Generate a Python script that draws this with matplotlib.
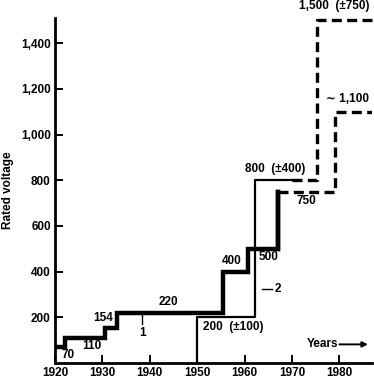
import matplotlib.pyplot as plt

plt.rcParams['font.family'] = ['Liberation Sans', 'DejaVu Sans']
plt.rcParams['font.weight'] = 'bold'

# curve 1: actual rated voltages (thick, solid), then forecast (dashed)
years1 = [1920, 1922.2, 1930.5, 1933, 1955.4, 1960.8, 1967]
volts1 = [70, 110, 154, 220, 400, 500, 750]
years1_fc = [1967, 1979.1, 1979.1, 1987]
volts1_fc = [750, 750, 1100, 1100]

# curve 2: thin solid, then dashed forecast
years2 = [1950, 1950, 1962.2, 1962.2, 1970]
volts2 = [0, 200, 200, 800, 800]
years2_fc = [1970, 1975.2, 1975.2, 1987]
volts2_fc = [800, 800, 1500, 1500]

xticks = [1920, 1930, 1940, 1950, 1960, 1970, 1980]
yticks = [200, 400, 600, 800, 1000, 1200, 1400]
ytick_labels = ['200', '400', '600', '800', '1,000', '1,200', '1,400']

fig = plt.figure(figsize=(3.74, 3.78), dpi=100)
ax = fig.add_axes([0.147, 0.040, 0.848, 0.912])

ax.step(years1, volts1, where='post', color='black', lw=3.2, solid_joinstyle='miter')
ax.plot([years1[-1], years1[-1]], [volts1[-2], volts1[-1]], color='black', lw=3.2)
ax.plot(years1_fc, volts1_fc, color='black', lw=2.4, ls=(0, (3, 1.6)))
ax.plot(years2, volts2, color='black', lw=1.6)
ax.plot(years2_fc, volts2_fc, color='black', lw=2.4, ls=(0, (3, 1.6)), clip_on=False)

ax.set_xlim(1920, 1986.9)
ax.set_ylim(0, 1510)
ax.set_xticks(xticks)
ax.set_yticks(yticks)
ax.set_yticklabels(ytick_labels)
fs = 8.5
ax.tick_params(direction='in', length=6, width=1.4, labelsize=fs, pad=3)
ax.spines['top'].set_visible(False)
ax.spines['right'].set_visible(False)
ax.spines['left'].set_linewidth(2)
ax.spines['bottom'].set_linewidth(2)
ax.set_ylabel('Rated voltage', fontsize=fs, fontweight='bold', labelpad=5)

labels = [
    ('70', 1922.8, 34), ('110', 1927.7, 73), ('154', 1930.1, 197),
    ('220', 1943.9, 266), ('1', 1938.5, 129), ('400', 1957.3, 445),
    ('500', 1965.1, 465), ('2', 1967.0, 324), ('200  (\u00b1100)', 1957.7, 156),
    ('750', 1973.0, 711), ('800  (\u00b1400)', 1966.4, 850),
    ('\u223c 1,100', 1981.8, 1156), ('1,500  (\u00b1750)', 1979.0, 1562),
    ('Years', 1976.5, 81),
]
for txt, x, y in labels:
    ax.text(x, y, txt, fontsize=fs, fontweight='bold', ha='center', va='center', clip_on=False)

# small leader lines for curve numbers
ax.plot([1938.3, 1938.3], [220, 170], color='black', lw=1)
ax.plot([1963.7, 1965.8], [324, 324], color='black', lw=1)
ax.annotate('', xy=(1986.6, 81), xytext=(1979.4, 81),
            arrowprops=dict(arrowstyle='-|>', color='black', lw=1.4, mutation_scale=8))

fig.savefig('out.png', dpi=100)
